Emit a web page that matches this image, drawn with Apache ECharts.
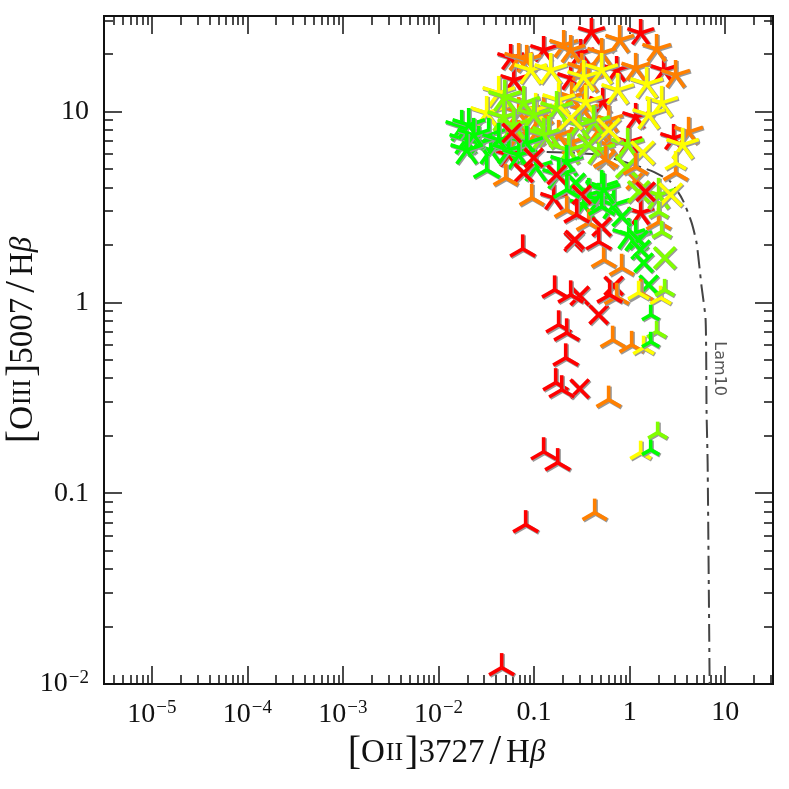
<!DOCTYPE html>
<html>
<head>
<meta charset="utf-8">
<title>[OIII]5007/Hb vs [OII]3727/Hb</title>
<style>
  html, body { margin: 0; padding: 0; background: #fff; }
  #chart { width: 789px; height: 789px; }
</style>
<script src="https://cdn.jsdelivr.net/npm/echarts@6/dist/echarts.min.js"></script>
</head>
<body>
<div id="chart"></div>
<script>
// all points are [log10 OII/Hb, log10 OIII/Hb], split by colour and number of arms
const red5 = [[-.40,1.416],[.115,1.411],[-.513,1.306],[-.136,1.217],[.356,1.217],[-.90,1.322],[-1.245,1.280],[-.617,1.175],[-1.213,1.165],[-.282,1.050],[.063,.971],[.46,.861],[-.01,.84],[-.795,.547],[-1.266,.772],[.115,.469]];
const red4 = [[-1.234,.887],[-1.004,.757],[-1.109,.678],[-.764,.668],[-.502,.563],[.167,.579],[-.293,.395],[-.586,.317],[-.575,.327],[-.167,.086],[-.523,.034],[-.324,-.065],[-.523,-.453]];
const red3 = [[-.554,.458],[-.324,.317],[-1.119,.28],[-.785,.065],[-.617,.039],[-.209,.039],[-.743,-.118],[-.659,-.16],[-.669,-.291],[-.774,-.421],[-.711,-.458],[-.90,-.783],[-.753,-.84],[-1.088,-1.165],[-1.339,-1.914]];
const orange5 = [[-.105,1.374],[.282,1.327],[-.293,1.306],[-.69,1.348],[.063,1.228],[.481,1.191],[-1.161,1.28],[.617,.893],[-.502,1.228],[-.607,1.076],[-.983,.887],[-.607,.84],[-.22,.825],[-1.077,1.27],[-.617,1.322],[-.429,1.165],[-1.161,.997],[-.90,.997],[-.481,1.008],[-.324,.903],[-1.161,.877],[-.743,.877],[-.952,.955],[-.22,.955]];
const orange4 = [[.063,.641],[-.251,.746]];
const orange3 = [[-.251,.746],[.063,.709],[-1.297,.652],[-1.025,.547],[-.659,.484],[-.429,.416],[.303,.421],[.481,.678],[-.272,.223],[-.084,.181],[.115,.05],[-.136,.029],[-.178,-.196],[.021,-.223],[-.22,-.51],[-.366,-1.102]];
const yellow5 = [[-1.036,1.217],[-.826,1.217],[-.481,1.181],[-.293,1.217],[-.126,1.113],[.178,1.144],[.335,1.045],[.199,.982],[-.46,1.05],[.554,.825],[-.983,1.008],[-1.37,1.097],[-1.496,.992],[-.743,1.06]];
const yellow4 = [[-.617,.966],[-.22,.903],[.136,.783],[.429,.563]];
const yellow3 = [[.481,.73],[.094,.05],[.324,.024],[.146,-.238],[.115,-.788]];
const lime5 = [[-1.308,1.076],[-1.109,1.045],[-.764,1.018],[-.377,.945],[-.847,.887],[-1.318,.971],[-.021,.825],[-1.213,.929],[-1.004,.982],[-.533,.929],[-.90,.877],[-.638,.798],[-.324,.798],[.303,.563]];
const lime4 = [[-.429,.825],[-.031,.709],[.094,.579],[.366,.233]];
const lime3 = [[.303,.474],[.335,.369],[.366,.065],[.282,-.154],[.293,-.683]];
const green5 = [[-1.757,.919],[-1.475,.877],[-1.715,.851],[-1.077,.835],[-1.454,.798],[-1.58,.835],[-.659,.736],[-.983,.709],[-.293,.605],[.063,.343],[-1.684,.929],[-1.632,.877],[-1.705,.798],[-1.37,.851],[-1.266,.798],[-1.161,.772],[-.743,.668],[-.429,.563],[-.324,.537],[-.167,.511],[-.481,.511],[-.01,.353],[-.272,.589]];
const green4 = [[-.565,.626],[-.084,.448],[.094,.327],[.115,.275],[.146,.207],[.199,.092]];
const green3 = [[-1.496,.694],[-.659,.589],[-.293,.5]];
const green3Small = [[.22,-.065],[.22,-.207],[.22,-.772]];
// Lam10 model track
const lamX = [-.868,-.324,.199,.408,.492,.565,.649,.70,.753,.795,.805,.816,.837];
const lamY = [.788,.772,.694,.641,.589,.526,.416,.312,.081,-.092,-.579,-.84,-2];
const lamLabel = [.941, -.348];

const xMajor = [1e-5, 1e-4, 1e-3, 1e-2, 0.1, 1, 10];
const yMajor = [0.01, 0.1, 1, 10];
const minorSteps = [2, 3, 4, 5, 6, 7, 8, 9];
const xTitle = ['[', 'O', 'II', ']', '3727', '/', 'H', 'β'];
const yTitle = ['[', 'O', 'III', ']', '5007', '/', 'H', 'β'];

const xMin = Math.pow(10, -5.5), xMax = Math.pow(10, 1.5);
const yMin = 0.01, yMax = Math.pow(10, 1.5);
const FONT = '"Liberation Serif", serif';
const INK = '#111';

function minors(majors) {
  const out = [];
  [majors[0] / 10].concat(majors).forEach(m => minorSteps.forEach(s => out.push(m * s)));
  return out;
}
function tickText(v) {
  const e = Math.round(Math.log10(v));
  if (e >= 0 && e <= 1) return String(Math.pow(10, e));
  if (e === -1) return '0.1';
  return '{t|10}{s|\u2212' + Math.abs(e) + '}';
}
const richTick = {
  t: { fontFamily: FONT, fontSize: 28, color: INK },
  s: { fontFamily: FONT, fontSize: 19, color: INK, verticalAlign: 'bottom', padding: [0, 0, 12, 1] }
};
const richTitle = {
  b: { fontFamily: FONT, fontSize: 40, color: INK },
  m: { fontFamily: FONT, fontSize: 33, color: INK },
  c: { fontFamily: FONT, fontSize: 26, color: INK, padding: [0, 2, 0, 1] },
  l: { fontFamily: FONT, fontSize: 42, color: INK, padding: [0, 5, 0, 5] },
  g: { fontFamily: FONT, fontSize: 31, fontStyle: 'italic', color: INK }
};
function titleOf(t) {
  return '{b|' + t[0] + '}{m|' + t[1] + '}{c|' + t[2] + '}{b|' + t[3] + '}{m|' + t[4] + '}{l|' + t[5] + '}{m|' + t[6] + '}{g|' + t[7] + '}';
}

function axis(base, position, ticks, len, extra) {
  return Object.assign({
    type: 'log', logBase: 10, min: base[0], max: base[1], position: position,
    splitLine: { show: false }, minorTick: { show: false },
    axisLine: { show: true, onZero: false, lineStyle: { color: INK, width: 2 } },
    axisTick: { show: true, inside: true, length: len, customValues: ticks, lineStyle: { color: INK, width: 1.5 } },
    axisLabel: { show: false }
  }, extra || {});
}
const labelBlock = majors => ({
  axisLabel: {
    show: true, customValues: majors, margin: 15, hideOverlap: false, showMinLabel: true, showMaxLabel: true,
    fontFamily: FONT, fontSize: 28, color: INK, rich: richTick, formatter: tickText
  }
});

function starSeries(name, pts, arms, radius, color) {
  const start = arms === 4 ? Math.PI / 4 : 0;
  return {
    name: name, type: 'custom', xAxisIndex: 0, yAxisIndex: 0, z: 3, clip: true,
    data: pts.map(p => [Math.pow(10, p[0]), Math.pow(10, p[1])]),
    encode: { x: 0, y: 1 },
    renderItem: function (params, api) {
      const c = api.coord([api.value(0), api.value(1)]);
      const children = [];
      [['#999999', 1, 1, 4.4], [color, 0, 0, 3.6]].forEach(layer => {
        for (let i = 0; i < arms; i++) {
          const a = start + i * 2 * Math.PI / arms;
          children.push({
            type: 'line',
            shape: {
              x1: c[0] + layer[1], y1: c[1] + layer[2],
              x2: c[0] + layer[1] + radius * Math.sin(a), y2: c[1] + layer[2] - radius * Math.cos(a)
            },
            style: { stroke: layer[0], lineWidth: layer[3], fill: null }
          });
        }
      });
      return { type: 'group', children: children };
    }
  };
}

const myChart = echarts.init(document.getElementById('chart'), null, { renderer: 'canvas' });
myChart.setOption({
  animation: false,
  backgroundColor: '#fff',
  grid: { left: 104, right: 16, top: 16, bottom: 105, containLabel: false, outerBoundsMode: 'none' },
  xAxis: [
    axis([xMin, xMax], 'bottom', xMajor, 18, Object.assign(labelBlock(xMajor), {
      name: titleOf(xTitle), nameLocation: 'middle', nameGap: 48, nameMoveOverlap: false,
      nameTextStyle: { rich: richTitle, padding: [0, 0, 0, 16] }
    })),
    axis([xMin, xMax], 'bottom', minors(xMajor), 9),
    axis([xMin, xMax], 'top', xMajor, 18),
    axis([xMin, xMax], 'top', minors(xMajor), 9)
  ],
  yAxis: [
    axis([yMin, yMax], 'left', yMajor, 18, Object.assign(labelBlock(yMajor), {
      name: titleOf(yTitle), nameLocation: 'middle', nameGap: 60, nameRotate: 90, nameMoveOverlap: false,
      nameTextStyle: { rich: richTitle, padding: [0, 0, 0, 20] }
    })),
    axis([yMin, yMax], 'left', minors(yMajor), 9),
    axis([yMin, yMax], 'right', yMajor, 18),
    axis([yMin, yMax], 'right', minors(yMajor), 9)
  ],
  series: [
    {
      name: 'Lam10', type: 'line', xAxisIndex: 0, yAxisIndex: 0, z: 2, symbol: 'none', smooth: 0.2,
      data: lamX.map((x, i) => [Math.pow(10, x), Math.pow(10, lamY[i])]),
      lineStyle: { color: '#444', width: 2, type: [18, 6, 4, 6] }
    },
    {
      name: 'Lam10 label', type: 'custom', xAxisIndex: 0, yAxisIndex: 0, z: 4,
      data: [[Math.pow(10, lamLabel[0]), Math.pow(10, lamLabel[1])]], encode: { x: 0, y: 1 },
      renderItem: function (params, api) {
        const c = api.coord([api.value(0), api.value(1)]);
        return {
          type: 'text', x: c[0], y: c[1], rotation: -Math.PI / 2,
          style: { text: 'Lam10', fill: '#555', font: '16px "DejaVu Sans", sans-serif', align: 'center', verticalAlign: 'middle' }
        };
      }
    },
    starSeries('red 5', red5, 5, 14, '#ff0000'),
    starSeries('orange 5', orange5, 5, 15, '#ff8000'),
    starSeries('yellow 5', yellow5, 5, 17, '#ffff00'),
    starSeries('lime 5', lime5, 5, 17, '#80ff00'),
    starSeries('green 5', green5, 5, 17, '#00ff00'),
    starSeries('orange 4', orange4, 4, 13, '#ff8000'),
    starSeries('yellow 4', yellow4, 4, 16, '#ffff00'),
    starSeries('lime 4', lime4, 4, 15, '#80ff00'),
    starSeries('green 4', green4, 4, 13, '#00ff00'),
    starSeries('red 4', red4, 4, 13, '#ff0000'),
    starSeries('orange 3', orange3, 3, 14, '#ff8000'),
    starSeries('yellow 3', yellow3, 3, 12, '#ffff00'),
    starSeries('lime 3', lime3, 3, 11, '#80ff00'),
    starSeries('green 3', green3, 3, 15, '#00ff00'),
    starSeries('green 3 small', green3Small, 3, 10, '#00ff00'),
    starSeries('red 3', red3, 3, 14.5, '#ff0000')
  ]
});
</script>
</body>
</html>
